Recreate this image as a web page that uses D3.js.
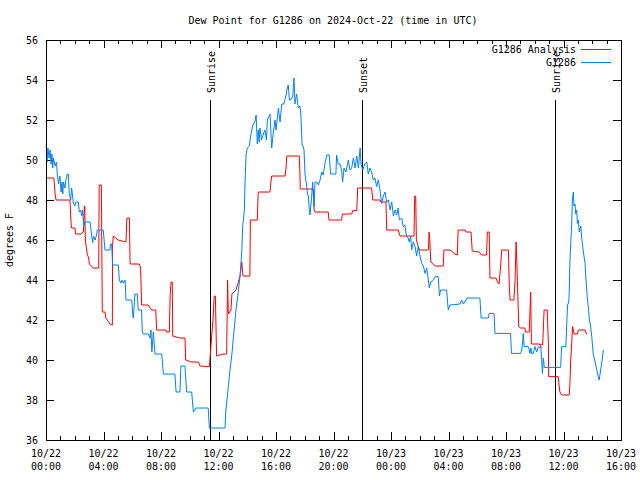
<!DOCTYPE html>
<html>
<head>
<meta charset="utf-8">
<script src="https://cdn.jsdelivr.net/npm/d3@7"></script>
<style>
  html, body { margin: 0; padding: 0; background: #fff; }
  svg { display: block; }
  text { font-family: "DejaVu Sans Mono", "Liberation Mono", monospace; font-size: 10px; fill: #000; }
</style>
</head>
<body>
<svg id="chart" width="640" height="480"></svg>
<script>
// ---------------- DATA ----------------
const titleText = "Dew Point for G1286 on 2024-Oct-22 (time in UTC)";
const yLabel = "degrees F";
const seriesNames = ["G1286 Analysis", "G1286"];
const startTime = "2024-10-22T00:00:00Z";
const endTime = "2024-10-23T16:00:00Z";
const yTicks = [36, 38, 40, 42, 44, 46, 48, 50, 52, 54, 56];

// minutes after 2024-10-22 00:00 UTC
const analysisMinutes = [0,33,38,42,100,103,106,121,123,145,156,160,162,164,172,178,181,197,220,222,231,235,246,250,267,277,278,281,301,334,337,339,348,351,389,395,399,427,434,441,458,462,501,502,515,518,522,527,529,559,580,583,608,636,643,682,698,702,707,712,738,754,758,761,772,776,793,810,817,822,851,853,882,884,886,935,938,942,998,1002,1005,1057,1060,1061,1116,1119,1123,1178,1181,1234,1237,1276,1280,1297,1301,1359,1364,1394,1397,1419,1422,1470,1478,1536,1539,1543,1546,1558,1596,1599,1602,1606,1617,1624,1658,1661,1683,1693,1707,1717,1720,1749,1753,1774,1779,1808,1818,1839,1842,1850,1853,1878,1885,1891,1898,1902,1930,1934,1937,1953,1958,1962,1965,1970,1973,1981,1999,2001,2017,2020,2023,2026,2059,2062,2069,2073,2079,2092,2097,2098,2138,2141,2145,2152,2184,2187,2190,2194,2198,2201,2204,2218,2222,2250,2254,2257];
const analysisValues = [49.1,49.1,48.3,48.0,48.0,47.2,46.6,46.6,46.3,46.3,46.4,47.7,47.7,46.0,45.3,45.1,44.8,44.6,44.6,48.75,48.75,42.4,42.4,42.1,41.8,41.75,45.75,46.2,46.0,45.9,47.0,47.1,47.1,44.8,44.8,44.6,42.75,42.75,42.6,42.5,42.5,41.5,41.5,41.4,41.4,43.2,43.9,43.9,41.2,41.1,41.1,40.0,39.9,39.9,39.7,39.67,42.2,43.2,43.2,40.2,40.3,40.3,44.0,42.3,42.5,43.3,43.5,44.2,44.9,44.2,44.2,47.0,47.0,47.75,48.4,48.4,48.8,49.2,49.2,49.6,50.2,50.2,49.3,48.55,48.55,47.5,47.4,47.4,47.0,47.0,47.3,47.3,47.47,47.47,48.6,48.6,48.0,48.0,47.9,47.9,46.5,46.5,46.2,46.2,48.2,48.2,46.0,45.5,45.5,46.4,46.0,44.9,44.8,44.7,44.7,45.5,45.5,45.45,45.3,45.25,46.5,46.5,46.4,46.4,45.45,45.4,45.25,45.25,46.4,46.4,44.1,44.1,43.9,43.8,44.75,45.5,45.5,43.6,43.0,43.0,44.0,45.9,45.0,43.0,41.67,41.6,41.6,41.4,41.4,42.4,43.4,40.8,40.8,40.75,40.8,40.75,42.5,42.5,40.8,39.17,39.17,38.8,38.4,38.25,38.25,38.9,40.0,40.8,41.67,41.5,41.3,41.3,41.5,41.5,41.35,41.3];

const obsMinutes = [1,4,8,13,17,21,25,28,31,38,44,47,52,58,63,67,70,73,79,83,89,93,97,103,107,111,114,120,125,135,139,145,149,153,157,163,184,191,195,198,205,211,214,239,246,267,269,274,278,302,306,313,317,323,330,334,358,362,364,367,371,381,385,399,402,406,427,434,438,442,448,455,483,490,538,543,559,563,580,587,608,615,626,677,682,747,751,761,768,776,785,793,801,810,817,821,828,831,835,840,849,854,859,865,872,877,882,886,890,893,900,907,914,920,924,935,942,949,956,960,970,977,984,993,1002,1007,1011,1016,1021,1030,1035,1039,1046,1053,1060,1064,1069,1074,1077,1081,1088,1091,1095,1099,1102,1109,1113,1116,1119,1123,1130,1137,1144,1151,1157,1164,1172,1182,1188,1210,1213,1220,1227,1234,1238,1244,1252,1262,1269,1276,1283,1290,1297,1304,1311,1315,1322,1331,1339,1345,1352,1359,1366,1373,1380,1387,1394,1401,1408,1415,1422,1429,1436,1443,1450,1457,1464,1470,1475,1485,1491,1498,1505,1512,1516,1522,1526,1533,1540,1547,1554,1561,1568,1575,1582,1589,1596,1600,1606,1617,1624,1637,1642,1647,1672,1679,1686,1728,1735,1742,1758,1811,1816,1846,1850,1870,1874,1939,1943,1981,1986,1990,1992,1996,2013,2017,2020,2024,2027,2034,2041,2048,2055,2062,2065,2069,2072,2076,2080,2148,2152,2170,2173,2177,2182,2184,2187,2191,2194,2197,2201,2204,2208,2211,2215,2218,2222,2226,2232,2236,2243,2250,2254,2259,2264,2268,2273,2278,2284,2292,2299,2305,2309,2315,2319,2324,2326];
const obsValues = [50.8,49.9,50.6,50.1,50.5,49.8,50.3,49.6,50.1,49.7,49.9,49.3,48.8,49.2,48.4,48.9,48.3,48.9,48.6,49.0,49.3,49.3,48.3,48.0,48.6,48.2,47.85,47.7,47.9,47.9,47.4,47.5,47.2,47.5,46.67,46.9,46.9,46.17,45.87,46.2,46.0,46.25,46.5,46.5,45.5,45.5,45.8,45.8,44.75,44.75,44.0,43.85,44.0,43.85,44.0,43.0,43.0,42.3,42.1,42.5,43.3,43.3,42.5,42.5,41.4,41.3,41.3,41.1,41.5,40.4,41.4,40.3,40.3,39.3,39.3,38.4,38.4,39.7,39.7,38.4,38.4,37.4,37.6,37.6,36.6,36.6,37.5,38.67,39.5,40.3,41.5,42.5,43.25,44.2,45.4,46.7,47.5,49.0,50.25,50.6,50.7,51.2,51.5,51.8,51.9,52.25,50.8,51.5,50.9,51.6,51.0,51.3,51.5,51.0,52.0,52.3,50.6,51.4,52.0,51.5,52.6,51.9,52.8,52.8,53.25,53.6,53.75,53.0,53.0,53.2,54.1,52.8,53.3,52.6,52.7,52.2,50.75,50.67,50.5,49.3,48.7,48.3,48.2,47.5,47.25,48.2,48.9,48.2,47.67,48.9,48.9,48.75,49.0,49.4,49.25,49.8,50.25,50.25,49.3,49.3,50.25,49.8,49.8,49.5,48.9,49.6,49.4,50.0,49.5,49.6,50.1,49.6,50.2,49.6,50.6,49.8,49.5,49.8,49.9,49.3,49.6,49.4,49.0,49.1,48.67,49.0,48.5,47.83,48.2,48.4,47.9,48.0,47.5,47.9,47.2,47.5,47.25,47.6,47.0,47.1,46.67,46.75,46.17,46.1,45.9,46.2,45.5,45.9,45.7,45.2,45.7,45.2,44.83,44.7,44.33,44.6,44.0,43.6,43.9,44.0,44.17,44.17,43.2,43.5,43.5,42.5,42.75,42.8,43.0,42.8,43.1,43.1,42.1,42.1,42.33,42.33,41.33,41.33,40.33,40.33,40.5,41.0,41.33,40.67,40.67,40.5,40.33,40.6,40.33,40.33,40.67,40.4,40.67,40.6,40.75,40.0,39.33,40.1,39.63,39.63,40.67,40.67,41.67,42.75,42.9,43.5,45.0,46.0,46.75,48.0,48.4,47.7,47.8,47.3,47.5,46.83,47.0,46.4,46.7,46.1,45.4,44.83,44.0,43.17,42.6,42.0,41.7,41.17,40.3,39.9,39.5,39.17,39.0,39.5,39.8,40.25,40.5];

const sunEventNames = ["Sunrise", "Sunset", "Sunrise"];
const sunEventMinutes = [685, 1320, 2126];

const seriesColors = ["#ff0000", "#0080ff"];

// ---------------- CHART ----------------
const svg = d3.select("#chart");
const margin = {left: 46, right: 621, top: 40, bottom: 440};
const t0 = new Date(startTime);
const toDate = m => new Date(t0.getTime() + m * 60000);

const x = d3.scaleUtc().domain([t0, new Date(endTime)]).range([margin.left, margin.right]);
const y = d3.scaleLinear().domain([36, 56]).range([margin.bottom, margin.top]);

// title
svg.append("text").attr("x", 333).attr("y", 24).attr("text-anchor", "middle").text(titleText);

// y label
svg.append("text").attr("transform", "translate(13,240) rotate(-90)")
  .attr("text-anchor", "middle").text(yLabel);

const g = svg.append("g");

// minor & major x ticks (bottom, top)
const hourTicks = d3.utcHour.every(1).range(t0, new Date(endTime));
const majorTicks = d3.utcHour.every(4).range(t0, new Date(new Date(endTime).getTime() + 1));

function drawAxis(axisFn, ticks, size, ypos) {
  const a = g.append("g").attr("transform", `translate(0,${ypos})`)
    .call(axisFn(x).tickValues(ticks).tickSize(size).tickFormat(""));
  a.select(".domain").remove();
  a.selectAll("line").attr("stroke", "#000").attr("shape-rendering", "crispEdges");
}
drawAxis(d3.axisBottom, hourTicks, -4, margin.bottom);
drawAxis(d3.axisTop, hourTicks, -4, margin.top);
drawAxis(d3.axisBottom, majorTicks, -8, margin.bottom);
drawAxis(d3.axisTop, majorTicks, -8, margin.top);

// y ticks left/right
const yl = g.append("g").attr("transform", `translate(${margin.left},0)`)
  .call(d3.axisLeft(y).tickValues(yTicks).tickSize(-8).tickFormat(""));
yl.select(".domain").remove();
const yr = g.append("g").attr("transform", `translate(${margin.right},0)`)
  .call(d3.axisRight(y).tickValues(yTicks).tickSize(-8).tickFormat(""));
yr.select(".domain").remove();
g.selectAll("line").attr("stroke", "#000").attr("shape-rendering", "crispEdges");

// y tick labels
svg.selectAll(".ylab").data(yTicks).enter().append("text")
  .attr("x", 38).attr("y", d => y(d) + 4).attr("text-anchor", "end").text(d => d);

// x tick labels (two lines)
const fmtDate = d3.utcFormat("%m/%d");
const fmtTime = d3.utcFormat("%H:%M");
const xl = svg.selectAll(".xlab").data(majorTicks).enter().append("g");
xl.append("text").attr("x", d => x(d)).attr("y", 457).attr("text-anchor", "middle").text(d => fmtDate(d));
xl.append("text").attr("x", d => x(d)).attr("y", 470).attr("text-anchor", "middle").text(d => fmtTime(d));

// sun events
sunEventMinutes.forEach((m, i) => {
  const xx = Math.round(x(toDate(m))) + 0.5;
  svg.append("line").attr("x1", xx).attr("x2", xx).attr("y1", 100).attr("y2", margin.bottom)
    .attr("stroke", "#000").attr("stroke-width", 1);
  svg.append("text").attr("transform", `translate(${xx + 4},93) rotate(-90)`)
    .attr("text-anchor", "start").text(sunEventNames[i]);
});

// lines
const line = d3.line().x(d => x(d[0])).y(d => y(d[1]));
const analysisData = analysisMinutes.map((m, i) => [toDate(m), analysisValues[i]]);
const obsData = obsMinutes.map((m, i) => [toDate(m), obsValues[i]]);

svg.append("path").datum(analysisData).attr("d", line)
  .attr("fill", "none").attr("stroke", seriesColors[0]).attr("stroke-width", 1);
svg.append("path").datum(obsData).attr("d", line)
  .attr("fill", "none").attr("stroke", seriesColors[1]).attr("stroke-width", 1);

// frame
svg.append("rect").attr("x", margin.left + 0.5).attr("y", margin.top + 0.5)
  .attr("width", margin.right - margin.left).attr("height", margin.bottom - margin.top)
  .attr("fill", "none").attr("stroke", "#000").attr("shape-rendering", "crispEdges");

// legend
seriesNames.forEach((name, i) => {
  const ly = 49 + i * 13;
  svg.append("text").attr("x", 576).attr("y", ly + 4).attr("text-anchor", "end").text(name);
  svg.append("line").attr("x1", 581).attr("x2", 611).attr("y1", ly + 0.5).attr("y2", ly + 0.5)
    .attr("stroke", seriesColors[i]).attr("stroke-width", 1);
});
</script>
</body>
</html>
